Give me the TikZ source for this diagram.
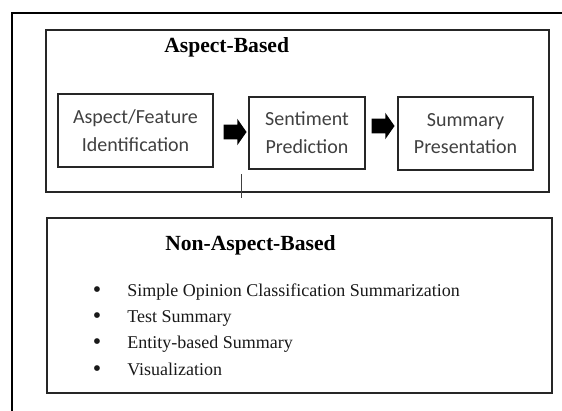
\documentclass[tikz,border=0pt]{standalone}
\usepackage{fontspec}
\setmainfont{Liberation Serif}
\newfontfamily\carlito{Carlito}
\usetikzlibrary{shapes.arrows}
\begin{document}
\begin{tikzpicture}[x=0.75pt,y=-0.75pt,
  frame/.style={line width=1.5pt, draw=black},
  groupbox/.style={draw=black!85, line width=1.7pt, inner sep=0pt},
  stepbox/.style={draw=black!85, line width=1.6pt, inner sep=0pt, align=center,
    font=\carlito\fontsize{15}{20.8}\selectfont, text=black!75},
  blockarrow/.style={single arrow, fill=black, draw=none, inner xsep=0pt, inner ysep=5.25pt,
    minimum height=17.25pt, minimum width=19.5pt,
    single arrow head extend=4.5pt, single arrow tip angle=110},
  titletext/.style={anchor=base west, inner sep=0pt,
    font=\bfseries\fontsize{16.2}{19}\selectfont},
  itemtext/.style={anchor=base west, inner sep=0pt, text=black!90,
    font=\fontsize{13.5}{16}\selectfont},
  bullettext/.style={anchor=base, inner sep=0pt, text=black!90,
    font=\fontsize{18}{16}\selectfont},
  tick/.style={draw=black!75, line width=0.7pt}
]
\useasboundingbox (0,0) rectangle (562,411);
% outer open frame
\coordinate (o1) at (12,415);
\coordinate (o2) at (12,13);
\coordinate (o3) at (566,13);
\draw[frame] (o1) -- (o2) -- (o3);
% group boxes
\node[groupbox, minimum width=377.25pt, minimum height=121.5pt] (top) at (297.5,111) {};
\node[groupbox, minimum width=378.75pt, minimum height=131.25pt] (bot) at (299.5,305.5) {};
% titles
\node[titletext] (t1) at (164,52) {Aspect-Based};
\node[titletext] (t2) at (165,250) {Non-Aspect-Based};
% steps
\node[stepbox, minimum width=116.25pt, minimum height=54.75pt] (s1) at (135.5,130.5) {Aspect/Feature\\Identification};
\node[stepbox, minimum width=87pt, minimum height=54pt] (s2) at (307,133) {Sentiment\\Prediction};
\node[stepbox, minimum width=101.25pt, minimum height=54.75pt] (s3) at (465.5,133.5) {Summary\\Presentation};
% block arrows
\node[blockarrow] (a1) at (232.5,132) {};
\node[blockarrow] (a2) at (380.5,126) {};
% small tick
\coordinate (k1) at (241,174);
\coordinate (k2) at (241,198);
\draw[tick] (k1) -- (k2);
% bullet list
\node[bullettext] (b1) at (97,297) {•};
\node[itemtext] (i1) at (127,296) {Simple Opinion Classification Summarization};
\node[bullettext] (b2) at (97,323) {•};
\node[itemtext] (i2) at (127,322) {Test Summary};
\node[bullettext] (b3) at (97,349) {•};
\node[itemtext] (i3) at (127,348) {Entity-based Summary};
\node[bullettext] (b4) at (97,376) {•};
\node[itemtext] (i4) at (127,375) {Visualization};
\end{tikzpicture}
\end{document}
